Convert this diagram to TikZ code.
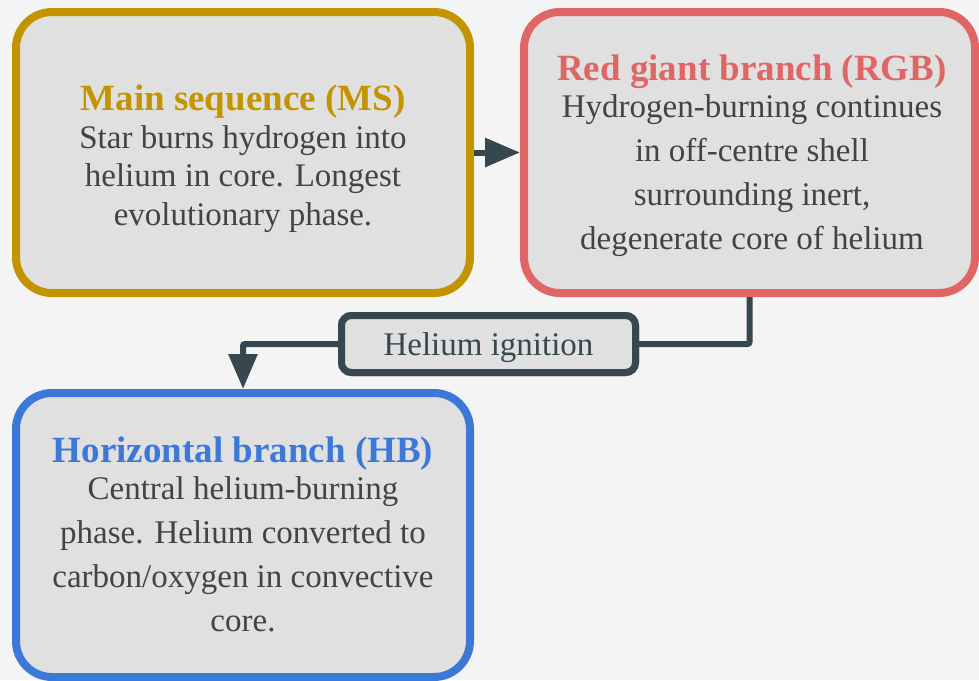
\documentclass[tikz,border=0pt]{standalone}
\usepackage{fontspec}
\setmainfont{Liberation Serif}
\usetikzlibrary{arrows.meta}
\definecolor{bgc}{HTML}{F4F4F4}
\definecolor{boxfill}{HTML}{E0E0E0}
\definecolor{goldc}{RGB}{196,148,0}
\definecolor{redc}{HTML}{E06666}
\definecolor{bluec}{HTML}{3C78D8}
\definecolor{txtc}{HTML}{434343}
\definecolor{linec}{HTML}{37474F}
\tikzset{
  phase/.style={draw, line width=8pt, fill=boxfill, rounded corners=36pt, inner sep=0pt},
  ttl/.style={anchor=base, font=\bfseries\fontsize{37}{40}\selectfont},
  bodyA/.style={anchor=base, align=center, text=txtc, font=\fontsize{33}{38.5}\selectfont},
  bodyB/.style={anchor=base, align=center, text=txtc, font=\fontsize{33}{44}\selectfont},
  conn/.style={draw=linec, line width=6pt, rounded corners=2pt},
  tip/.style={-{Triangle[length=35pt,width=28pt]}},
  lblbox/.style={draw=linec, line width=7pt, fill=boxfill, rounded corners=10pt, text=linec,
    minimum width=294pt, minimum height=57pt, inner sep=0pt, text height=25pt, text depth=3pt,
    font=\fontsize{33}{38}\selectfont}
}
\begin{document}
\begin{tikzpicture}[x=1pt,y=-1pt]
\fill[bgc] (0,0) rectangle (979,680);
\useasboundingbox (0,0) rectangle (979,680);
\node[phase, draw=goldc, minimum width=454pt, minimum height=281pt] (ms) at (243,152.5) {};
\node[phase, draw=redc, minimum width=451pt, minimum height=281pt] (rgb) at (749.5,152.5) {};
\node[phase, draw=bluec, minimum width=454pt, minimum height=284pt] (hb) at (243,535) {};

\node[ttl, text=goldc] (mst) at (243,110) {Main sequence (MS)};
\node[bodyA] (msb) at (243,225) {Star burns hydrogen into\\helium in core. Longest\\evolutionary phase.};

\node[ttl, text=redc] (rgbt) at (752,80) {Red giant branch (RGB)};
\node[bodyB] (rgbb) at (752,249) {Hydrogen-burning continues\\in off-centre shell\\surrounding inert,\\degenerate core of helium};

\node[ttl, text=bluec] (hbt) at (243,462) {Horizontal branch (HB)};
\node[bodyB] (hbb) at (243,631) {Central helium-burning\\phase. Helium converted to\\carbon/oxygen in convective\\core.};

\draw[conn, tip] (ms.east) -- (rgb.west);
\node[lblbox] (lbl) at (488.5,344) {};
\draw[conn] (rgb.south) |- (lbl.east);
\draw[conn, tip] (lbl.west) -| (hb.north);
\node[lblbox] (lbl2) at (lbl) {Helium ignition};
\end{tikzpicture}
\end{document}
